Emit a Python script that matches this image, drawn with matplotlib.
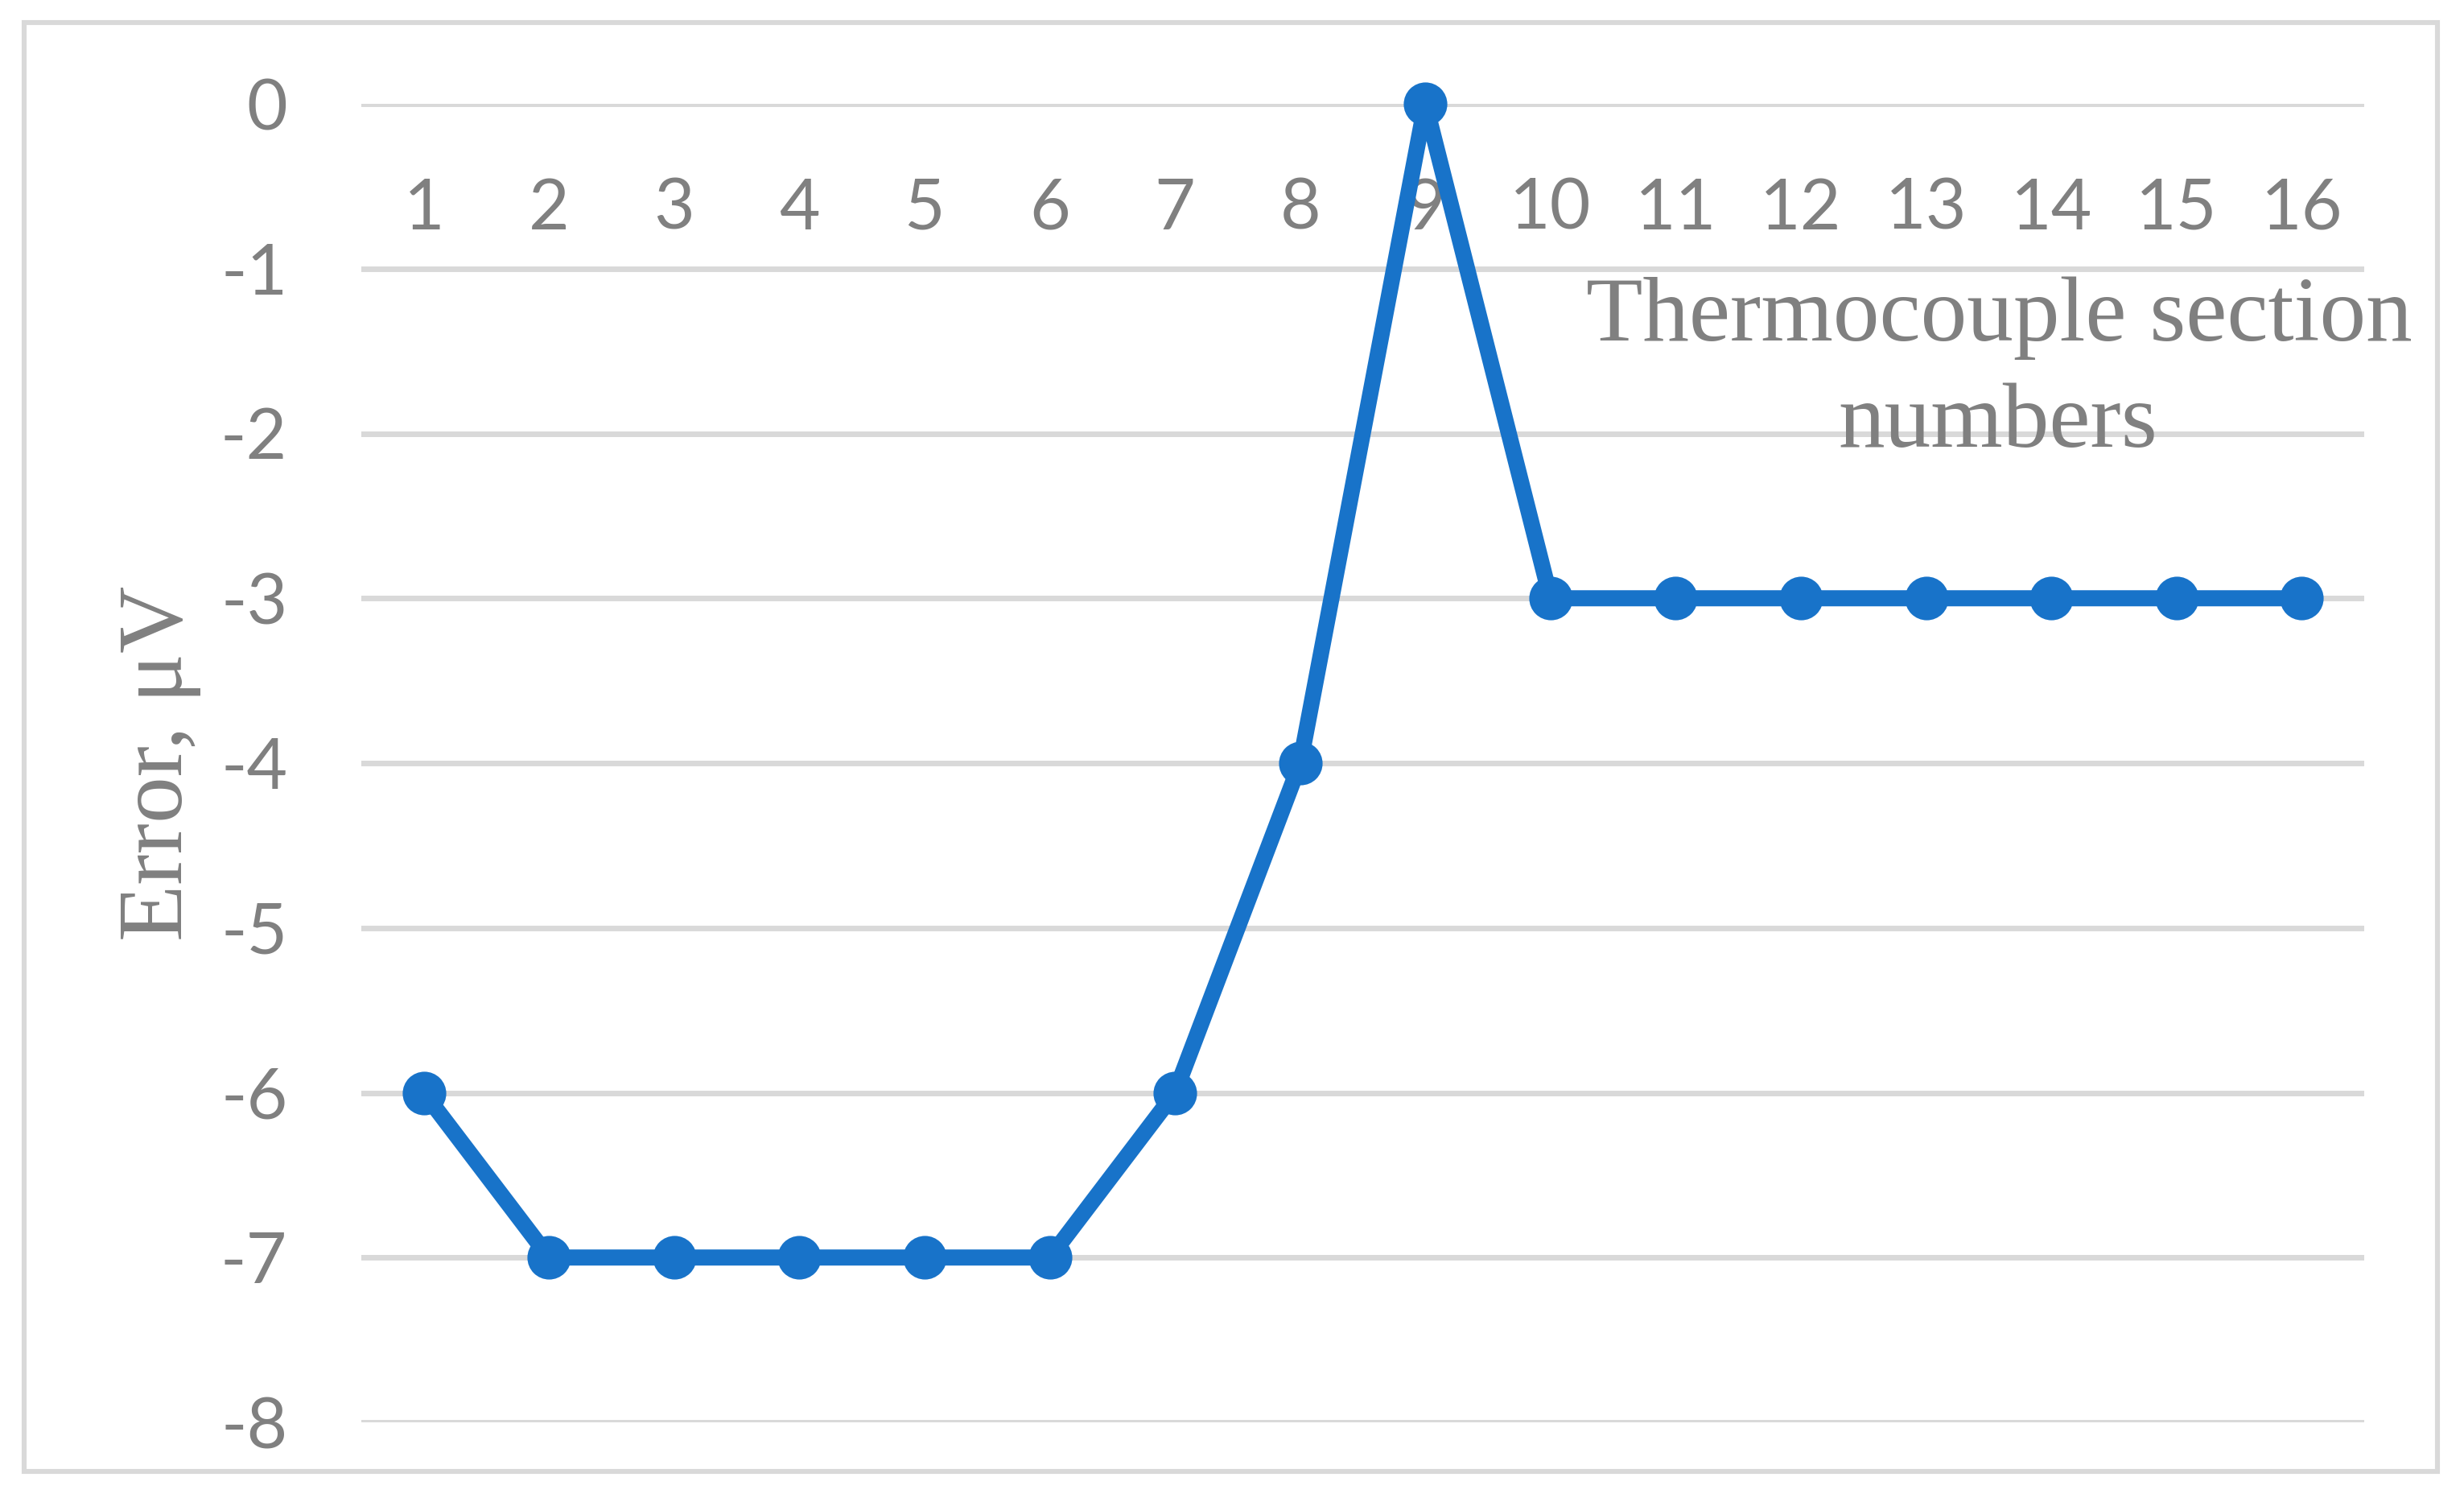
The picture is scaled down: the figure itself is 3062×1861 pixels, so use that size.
import matplotlib
matplotlib.use("Agg")
import matplotlib.pyplot as plt
from matplotlib.patches import Rectangle

# Data
sections = list(range(1, 17))
errors = [-6, -7, -7, -7, -7, -7, -6, -4, 0, -3, -3, -3, -3, -3, -3, -3]
y_ticks = [0, -1, -2, -3, -4, -5, -6, -7, -8]

W, H = 3062, 1861
DPI = 200
fig = plt.figure(figsize=(W / DPI, H / DPI), dpi=DPI)

GRAY_TXT = '#808080'
GRID = '#d9d9d9'
BLUE = '#1873c9'

def fx(px):
    return px / W

def fy(py):
    return 1 - py / H

left, right, top, bottom = 449, 2938, 129, 1767
ax = fig.add_axes([fx(left), fy(bottom), fx(right) - fx(left), fy(top) - fy(bottom)])

ax.plot(sections, errors, color=BLUE, linewidth=7.2, marker='o', markersize=18.5,
        markerfacecolor=BLUE, markeredgecolor=BLUE, zorder=3, clip_on=False,
        solid_joinstyle='round')

ax.set_xlim(0.5, 16.5)
ax.set_ylim(-8, 0)
ax.set_yticks(y_ticks)
ax.set_xticks(sections)
ax.set_xticklabels([str(s) for s in sections])
ax.set_yticklabels([str(v) for v in y_ticks])

for s in ax.spines.values():
    s.set_visible(False)
ax.spines['bottom'].set_position(('data', 0))

ax.set_axisbelow(True)
ax.grid(axis='y', color=GRID, linewidth=2.5)
ax.grid(axis='x', visible=False)

ax.tick_params(axis='x', length=0, pad=33, labelcolor=GRAY_TXT)
ax.tick_params(axis='y', length=0, pad=33, labelcolor=GRAY_TXT)
for lab in ax.get_xticklabels() + ax.get_yticklabels():
    lab.set_fontfamily(['Lato', 'DejaVu Sans'])
    lab.set_fontsize(31.5)

serif = ['Liberation Serif', 'DejaVu Serif']
fig.text(fx(226), fy(948), 'Error, \u03bcV', rotation=90, rotation_mode='anchor',
         ha='center', va='baseline', color=GRAY_TXT, fontsize=41.5, family=serif)
fig.text(fx(2484), fy(423), 'Thermocouple section', ha='center', va='baseline',
         color=GRAY_TXT, fontsize=41.5, family=serif)
fig.text(fx(2483), fy(555), 'numbers', ha='center', va='baseline',
         color=GRAY_TXT, fontsize=41.5, family=serif)

# outer chart border
fig.patches.append(Rectangle((fx(30), fy(1828)), fx(3029) - fx(30), fy(28) - fy(1828),
                             transform=fig.transFigure, fill=False,
                             edgecolor=GRID, linewidth=2.2, zorder=0))

fig.savefig('out.png', dpi=DPI, facecolor='white')
